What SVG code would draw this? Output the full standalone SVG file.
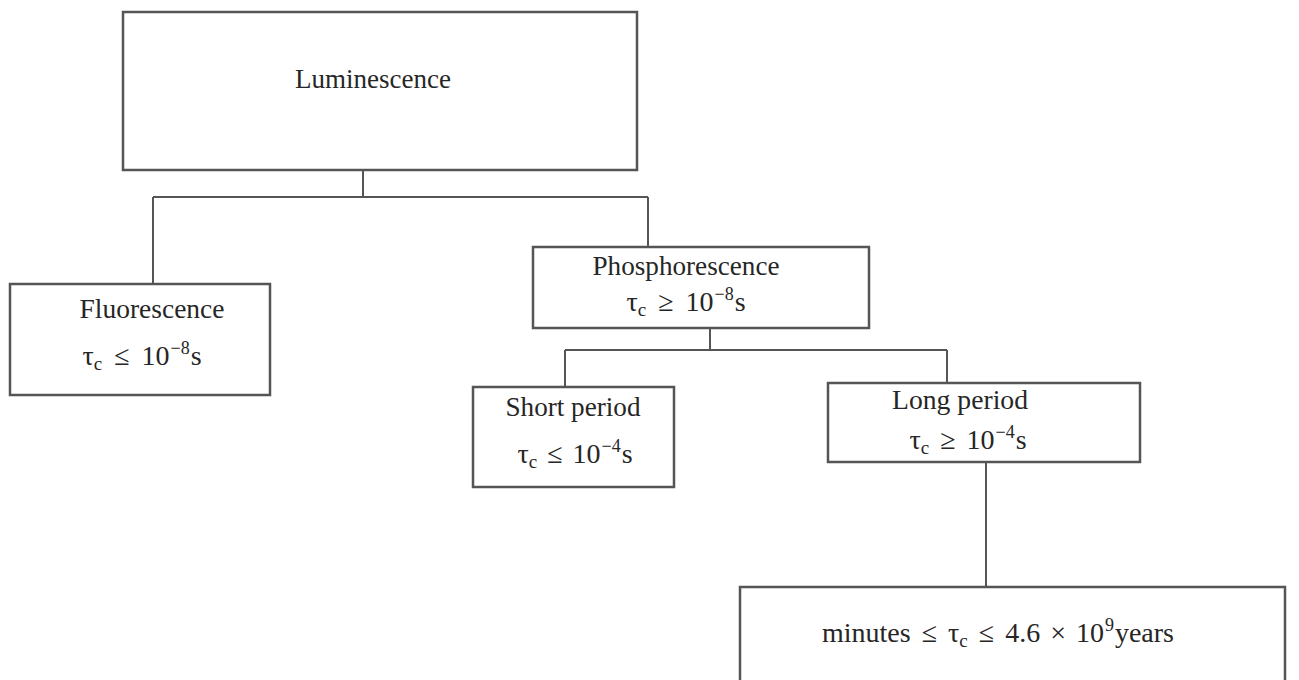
<svg xmlns="http://www.w3.org/2000/svg" width="1299" height="680" viewBox="0 0 1299 680">
<style>
.box{fill:#fff;stroke:#555;stroke-width:2.5}
.ln{fill:none;stroke:#555;stroke-width:2}
text{font-family:"Liberation Serif","Times New Roman",serif;font-size:27px;fill:#262626;text-anchor:middle}
.m{font-size:28px}
.sub{font-size:19px}
.sup{font-size:18px}
</style>
<rect width="1299" height="680" fill="#fff"/>
<g id="connectors">
<path class="ln" d="M363,170 V197 M153,197 H648 M153,197 V283 M648,197 V247"/>
<path class="ln" d="M710,328 V350 M565,350 H947 M565,350 V387 M947,350 V382"/>
<path class="ln" d="M986,462 V587"/>
</g>
<g id="luminescence">
<rect class="box" x="123" y="12" width="514" height="158"/>
<text x="373" y="88" textLength="156" lengthAdjust="spacingAndGlyphs">Luminescence</text>
</g>
<g id="fluorescence">
<rect class="box" x="10" y="284" width="260" height="111"/>
<text x="152" y="318" textLength="145" lengthAdjust="spacingAndGlyphs">Fluorescence</text>
<text class="m" x="142" y="365">τ<tspan class="sub" dy="5">c</tspan><tspan dx="5" dy="-5"> ≤</tspan><tspan dx="5"> 10</tspan><tspan class="sup" dx="1" dy="-11">−8</tspan><tspan dx="1" dy="11">s</tspan></text>
</g>
<g id="phosphorescence">
<rect class="box" x="533" y="247" width="336" height="81"/>
<text x="686" y="275" textLength="187" lengthAdjust="spacingAndGlyphs">Phosphorescence</text>
<text class="m" x="686" y="311">τ<tspan class="sub" dy="5">c</tspan><tspan dx="5" dy="-5"> ≥</tspan><tspan dx="5"> 10</tspan><tspan class="sup" dx="1" dy="-11">−8</tspan><tspan dx="1" dy="11">s</tspan></text>
</g>
<g id="short-period">
<rect class="box" x="473" y="387" width="201" height="100"/>
<text x="573" y="416" textLength="135" lengthAdjust="spacingAndGlyphs">Short period</text>
<text class="m" x="575" y="463">τ<tspan class="sub" dy="5">c</tspan><tspan dx="3" dy="-5"> ≤</tspan><tspan dx="3"> 10</tspan><tspan class="sup" dx="1" dy="-11">−4</tspan><tspan dx="1" dy="11">s</tspan></text>
</g>
<g id="long-period">
<rect class="box" x="828" y="383" width="312" height="79"/>
<text x="960" y="409" textLength="136" lengthAdjust="spacingAndGlyphs">Long period</text>
<text class="m" x="968" y="449">τ<tspan class="sub" dy="5">c</tspan><tspan dx="4" dy="-5"> ≥</tspan><tspan dx="4"> 10</tspan><tspan class="sup" dx="1" dy="-11">−4</tspan><tspan dx="1" dy="11">s</tspan></text>
</g>
<g id="range">
<rect class="box" x="740" y="587" width="545" height="96"/>
<text class="m" x="998" y="642">minutes<tspan dx="4"> ≤</tspan><tspan dx="4"> τ</tspan><tspan class="sub" dy="5">c</tspan><tspan dx="4" dy="-5"> ≤</tspan><tspan dx="4"> 4.6</tspan><tspan dx="3"> ×</tspan><tspan dx="3"> 10</tspan><tspan class="sup" dx="1" dy="-11">9</tspan><tspan dx="1" dy="11">years</tspan></text>
</g>
</svg>
